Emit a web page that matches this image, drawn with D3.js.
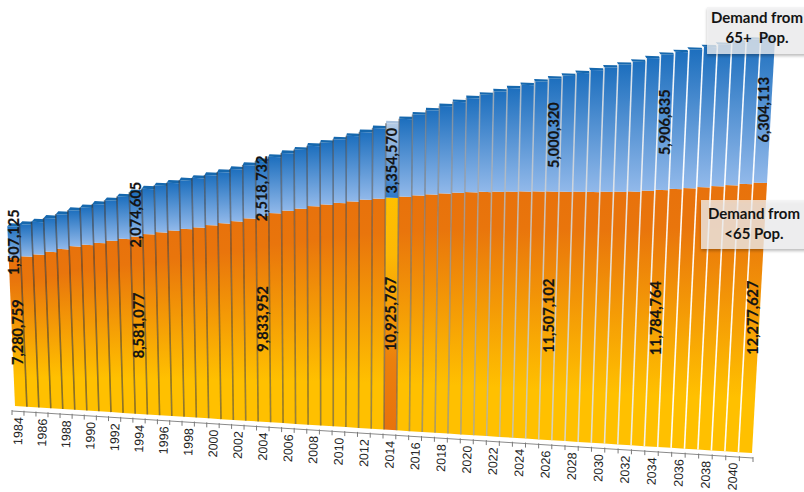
<!DOCTYPE html>
<html lang="en">
<head>
    <meta charset="UTF-8">
    <title>Demand by age group</title>
    <script src="https://d3js.org/d3.v7.min.js"></script>
    <style>
        html, body{ margin: 0; padding: 0; background: #fff; }
        svg{ display: block; }
        .value{
            font-family: Lato, sans-serif;
            font-size: 14.5px;
            font-weight: 700;
            fill: #141414;
            stroke: #141414;
            stroke-width: 0.2px;
            text-anchor: middle;
        }
        .year{
            font-family: 'Liberation Sans', sans-serif;
            font-size: 12.5px;
            fill: #222;
            text-anchor: end;
        }
        .note{
            font-family: Lato, sans-serif;
            font-size: 15px;
            font-weight: 700;
            fill: #141414;
            text-anchor: middle;
            white-space: pre;
        }
    </style>
</head>
<body>
    <svg width="804" height="492" viewBox="0 0 804 492"></svg>
    <script>
        const years = d3.range(1984, 2042);

        const under65 = [
            7280759, 7380000, 7500000, 7660000, 7820000, 7980000, 8080000, 8200000, 8330000, 8450000,
            8581077, 8720000, 8840000, 8950000, 9050000, 9150000, 9280000, 9400000, 9520000, 9680000,
            9833952, 9980000, 10120000, 10240000, 10380000, 10480000, 10580000, 10680000, 10780000, 10850000,
            10925767, 11000000, 11080000, 11150000, 11220000, 11280000, 11330000, 11370000, 11400000, 11430000,
            11460000, 11490000, 11507102, 11530000, 11550000, 11570000, 11600000, 11630000, 11660000, 11720000,
            11784764, 11850000, 11910000, 11980000, 12050000, 12120000, 12200000, 12277627
        ];
        const over65 = [
            1507125, 1530000, 1560000, 1600000, 1650000, 1700000, 1760000, 1830000, 1900000, 1980000,
            2074605, 2130000, 2180000, 2220000, 2260000, 2300000, 2330000, 2370000, 2410000, 2460000,
            2518732, 2580000, 2640000, 2700000, 2760000, 2820000, 2890000, 2970000, 3070000, 3200000,
            3354570, 3500000, 3640000, 3780000, 3920000, 4060000, 4200000, 4330000, 4470000, 4600000,
            4730000, 4870000, 5000320, 5120000, 5240000, 5360000, 5470000, 5580000, 5690000, 5800000,
            5906835, 5970000, 6030000, 6090000, 6140000, 6190000, 6250000, 6304113
        ];
        const labelledYears = [1984, 1994, 2004, 2014, 2026, 2034, 2041];
        const highlightYear = 2014;
        const notes = [
            {lines: ["Demand from", "65+  Pop."], box: [707, 7, 110, 47], y: [23, 43], cx: 757},
            {lines: ["Demand from", "<65 Pop."], box: [701, 200, 110, 49], y: [219, 239], cx: 754}
        ];

        const svg = d3.select("svg");
        const fmt = d3.format(",");

        // column position and value, both mapped to 0..1 on the tilted chart plane
        const scaleU = d3.scaleBand().domain(years).range([0, 1]);
        const scaleV = d3.scaleLinear().domain([0, 20000000]).range([0, 1]);

        // corners of the plane: bottom left, bottom right, top right, top left
        const quad = [[15, 406], [752, 453], [777, 3], [-3, -16]];
        const project = planeProjection(quad);

        function planeProjection(q){
            const [[x0,y0],[x1,y1],[x2,y2],[x3,y3]] = q;
            const dx1 = x1-x2, dx2 = x3-x2, sx = x0-x1+x2-x3;
            const dy1 = y1-y2, dy2 = y3-y2, sy = y0-y1+y2-y3;
            const den = dx1*dy2 - dx2*dy1;
            const g = (sx*dy2 - dx2*sy)/den;
            const h = (dx1*sy - sx*dy1)/den;
            const a = x1-x0+g*x1, b = x3-x0+h*x3;
            const d = y1-y0+g*y1, e = y3-y0+h*y3;
            return (u, v) => {
                const w = g*u + h*v + 1;
                return [(a*u + b*v + x0)/w, (d*u + e*v + y0)/w];
            };
        }

        const left = yr => scaleU(yr);
        const right = yr => scaleU(yr) + scaleU.bandwidth();
        const mid = yr => scaleU(yr) + scaleU.bandwidth()/2;
        const poly = pts => "M" + pts.map(p => p.join(",")).join("L") + "Z";

        function addGradient(defs, id, stops){
            defs.append("linearGradient").attr("id", id)
                .attr("x1", 0).attr("y1", 0).attr("x2", 0).attr("y2", 1)
                .selectAll("stop").data(stops).join("stop")
                .attr("offset", d => d[0])
                .attr("stop-color", d => d[1]);
        }

        const defs = svg.append("defs");
        addGradient(defs, "blue", [[0, "#1d6fbe"], [1, "#92b9ea"]]);
        addGradient(defs, "orange", [[0, "#e8720c"], [0.15, "#e9750c"], [0.8, "#ffc000"], [1, "#ffc000"]]);
        addGradient(defs, "blueHi", [[0, "#b4cbe6"], [1, "#2d78c8"]]);
        addGradient(defs, "orangeHi", [[0, "#ffc000"], [0.25, "#fdb804"], [0.7, "#ec800c"], [1, "#e8720c"]]);

        const shadow = defs.append("filter").attr("id", "boxShadow")
            .attr("x", "-10%").attr("y", "-10%").attr("width", "120%").attr("height", "130%");
        shadow.append("feDropShadow")
            .attr("dx", 0).attr("dy", 2).attr("stdDeviation", 1.5)
            .attr("flood-color", "#000").attr("flood-opacity", 0.35);

        const rows = years.map((year, i) => ({
            year: year,
            low: under65[i],
            high: over65[i],
            total: under65[i] + over65[i]
        }));

        // stacked columns
        const bars = svg.append("g").selectAll("g").data(rows).join("g");

        bars.append("path")
            .attr("d", d => poly([
                project(left(d.year), scaleV(0)), project(right(d.year), scaleV(0)),
                project(right(d.year), scaleV(d.low)), project(left(d.year), scaleV(d.low))
            ]))
            .attr("fill", d => d.year === highlightYear ? "url(#orangeHi)" : "url(#orange)");

        bars.append("path")
            .attr("d", d => poly([
                project(left(d.year), scaleV(d.low)), project(right(d.year), scaleV(d.low)),
                project(right(d.year), scaleV(d.total)), project(left(d.year), scaleV(d.total))
            ]))
            .attr("fill", d => d.year === highlightYear ? "url(#blueHi)" : "url(#blue)");

        // thin top face of every column, leaning toward the middle of the chart
        const capDx = d3.scaleLinear().domain([1984, 2041]).range([3, -2]);
        const capDy = d3.scaleLinear().domain([1984, 2041]).range([3, 2]);
        bars.append("path")
            .attr("d", d => {
                const a = project(left(d.year), scaleV(d.total));
                const b = project(right(d.year), scaleV(d.total));
                const dx = capDx(d.year), dy = capDy(d.year);
                return poly([a, b, [b[0]+dx, b[1]-dy], [a[0]+dx, a[1]-dy]]);
            })
            .attr("fill", d => d.year === highlightYear ? "#a9c2df" : "#1668ae");

        // column edges go from dark side faces on the left to pale ones on the right
        const edgeColor = d3.scaleLinear()
            .domain([1984, 2012, 2024, 2036])
            .range(["rgba(50,45,40,0.6)", "rgba(70,70,70,0.55)", "rgba(190,195,200,0.8)", "rgba(255,255,255,0.95)"])
            .clamp(true);
        svg.append("g").selectAll("line").data(rows.slice(1)).join("line")
            .each(function(d){
                const a = project(left(d.year), scaleV(0));
                const b = project(left(d.year), scaleV(d.total));
                d3.select(this)
                    .attr("x1", a[0]).attr("y1", a[1])
                    .attr("x2", b[0]).attr("y2", b[1]);
            })
            .attr("stroke", d => edgeColor(d.year))
            .attr("stroke-width", 1.6);

        // axis runs just under the columns
        const axisDx = d3.scaleLinear().domain([0, 1]).range([-3, 1]);
        const axisDy = d3.scaleLinear().domain([0, 1]).range([5, 5]);
        const onAxis = u => {
            const p = project(u, scaleV(0));
            return [p[0] + axisDx(u), p[1] + axisDy(u)];
        };
        const axis = svg.append("g");
        const axisA = onAxis(0), axisB = onAxis(1);
        axis.append("line")
            .attr("x1", axisA[0]).attr("y1", axisA[1])
            .attr("x2", axisB[0]).attr("y2", axisB[1])
            .attr("stroke", "#8a8a8a").attr("stroke-width", 1);
        axis.selectAll("line.tick").data(years.map(left).concat([1])).join("line")
            .attr("class", "tick")
            .attr("x1", u => onAxis(u)[0]).attr("y1", u => onAxis(u)[1] - 1)
            .attr("x2", u => onAxis(u)[0]).attr("y2", u => onAxis(u)[1] + 4)
            .attr("stroke", "#7a7a7a").attr("stroke-width", 1);

        axis.selectAll("text").data(years.filter(y => (y - 1984) % 2 === 0)).join("text")
            .attr("class", "year")
            .attr("transform", y => {
                const p = onAxis(mid(y));
                return `translate(${[p[0] + 5, p[1] + 6]}) rotate(-88)`;
            })
            .text(y => y);

        // value labels sit in the middle of their segment
        const labelled = rows.filter(d => labelledYears.includes(d.year));
        const labels = svg.append("g");
        const addLabels = (from, to, value) => labels.selectAll(null).data(labelled).join("text")
            .attr("class", "value")
            .attr("transform", d => {
                const a = project(mid(d.year), scaleV(from(d)));
                const b = project(mid(d.year), scaleV(to(d)));
                return `translate(${[(a[0]+b[0])/2 + 5, (a[1]+b[1])/2]}) rotate(-90)`;
            })
            .text(d => fmt(value(d)));
        addLabels(() => 0, d => d.low, d => d.low);
        addLabels(d => d.low, d => d.total, d => d.high);

        // callouts
        const callouts = svg.append("g").selectAll("g").data(notes).join("g");
        callouts.append("rect")
            .attr("x", d => d.box[0]).attr("y", d => d.box[1])
            .attr("width", d => d.box[2]).attr("height", d => d.box[3])
            .attr("fill", "#f1f2f3").attr("fill-opacity", 0.74)
            .attr("filter", "url(#boxShadow)");
        callouts.each(function(d){
            d3.select(this).selectAll("text").data(d.lines).join("text")
                .attr("class", "note")
                .attr("x", d.cx)
                .attr("y", (t, i) => d.y[i])
                .text(t => t);
        });
    </script>
</body>
</html>
